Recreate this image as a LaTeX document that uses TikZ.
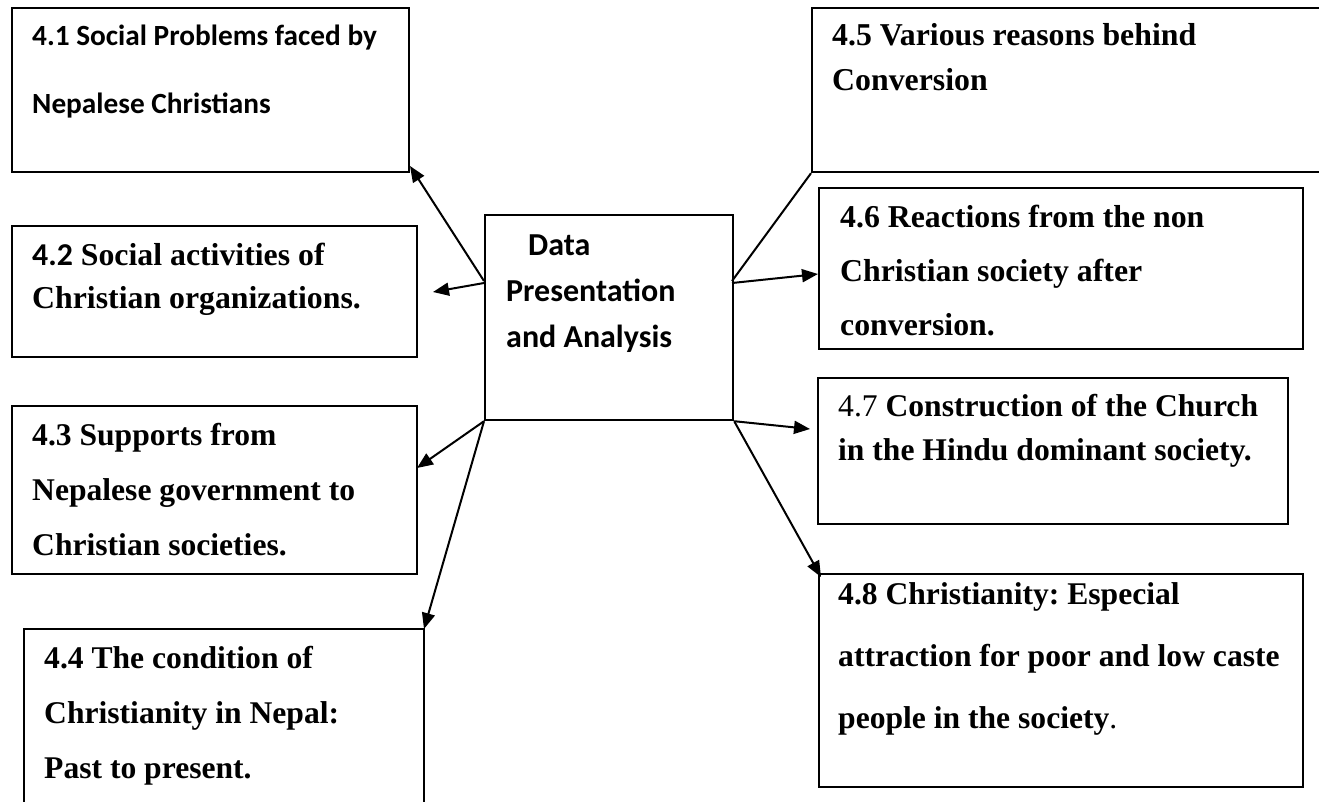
\documentclass[tikz,border=0pt]{standalone}
\usepackage{fontspec}
\setmainfont{Liberation Serif}
\newfontfamily\carl{Carlito}
\usetikzlibrary{arrows.meta}
\frenchspacing
\tikzset{
  box/.style={draw, line width=2.2pt, anchor=north west, inner sep=0pt},
  txt/.style={anchor=base west, align=left, inner sep=0pt},
  conn/.style={line width=2pt},
  arr/.style={conn, -{Triangle[length=16pt,width=13pt]}},
  serifb/.style={font=\fontsize{31.6}{55}\selectfont\bfseries},
  sansb/.style={font=\carl\fontsize{32}{46}\selectfont\bfseries}
}
\begin{document}
\begin{tikzpicture}[x=1pt,y=-1pt]
\useasboundingbox (0,0) rectangle (1319,801);
% boxes
\node[box, minimum width=397pt, minimum height=164pt] (b41) at (11,7) {};
\node[box, minimum width=405pt, minimum height=131pt] (b42) at (11,225) {};
\node[box, minimum width=405pt, minimum height=168pt] (b43) at (11,405) {};
\draw[line width=2.2pt] (24,805) -- (24,629) -- (424,629) -- (424,805);
\coordinate (b44ne) at (424,629);
\node[box, minimum width=248pt, minimum height=205pt] (c) at (484,214) {};
\node[box, minimum width=508pt, minimum height=164pt] (b45) at (811,7) {};
\node[box, minimum width=484pt, minimum height=161pt] (b46) at (818,187) {};
\node[box, minimum width=470pt, minimum height=146pt] (b47) at (817,377) {};
\node[box, minimum width=484pt, minimum height=213pt] (b48) at (818,573) {};
% texts (anchored at the baseline of their last line)
\node[txt, font=\carl\fontsize{29.3}{68}\selectfont\bfseries] (t41) at (32,113) {4.1 Social Problems faced by\\Nepalese Christians};
\node[txt, font=\fontsize{31.8}{43}\selectfont\bfseries] (t42) at (32,308) {{\carl 4.2} Social activities of\\Christian organizations.};
\node[txt, serifb] (t43) at (32,555) {4.3 Supports from\\Nepalese government to\\Christian societies.};
\node[txt, serifb] (t44) at (44,778) {4.4 The condition of\\Christianity in Nepal:\\Past to present.};
\node[txt, sansb] (tc) at (506,347) {\hspace*{22pt}Data\\Presentation\\and Analysis};
\node[txt, font=\fontsize{31.8}{45}\selectfont\bfseries] (t45) at (832,90) {4.5 Various reasons behind\\Conversion};
\node[txt, font=\fontsize{31.8}{54}\selectfont\bfseries] (t46) at (840,335) {4.6 Reactions from the non\\Christian society after\\conversion.};
\node[txt, font=\fontsize{31.6}{44}\selectfont\bfseries] (t47) at (838,460) {{\mdseries 4.7} Construction of the Church\\in the Hindu dominant society.};
\node[txt, font=\fontsize{31.6}{62}\selectfont\bfseries] (t48) at (838,728) {4.8 Christianity: Especial\\attraction for poor and low caste\\people in the society{\mdseries .}};
% connector points
\coordinate (cl) at (484,281);
\coordinate (cl2) at (484,283);
\coordinate (cr) at (732,281);
\coordinate (cr2) at (732,283);
\coordinate (e41) at (410,166);
\coordinate (e42) at (433,292);
\coordinate (e43) at (417,468);
\coordinate (e46) at (818,274);
\coordinate (e47) at (810,429);
\coordinate (e48) at (821,577);
% connectors
\draw[arr] (cl) -- (e41);
\draw[arr] (cl2) -- (e42);
\draw[arr] (c.south west) -- (e43);
\draw[arr] (c.south west) -- (b44ne);
\draw[conn] (cr) -- (b45.south west);
\draw[arr] (cr2) -- (e46);
\draw[arr] (c.south east) -- (e47);
\draw[arr] (c.south east) -- (e48);
\end{tikzpicture}
\end{document}
